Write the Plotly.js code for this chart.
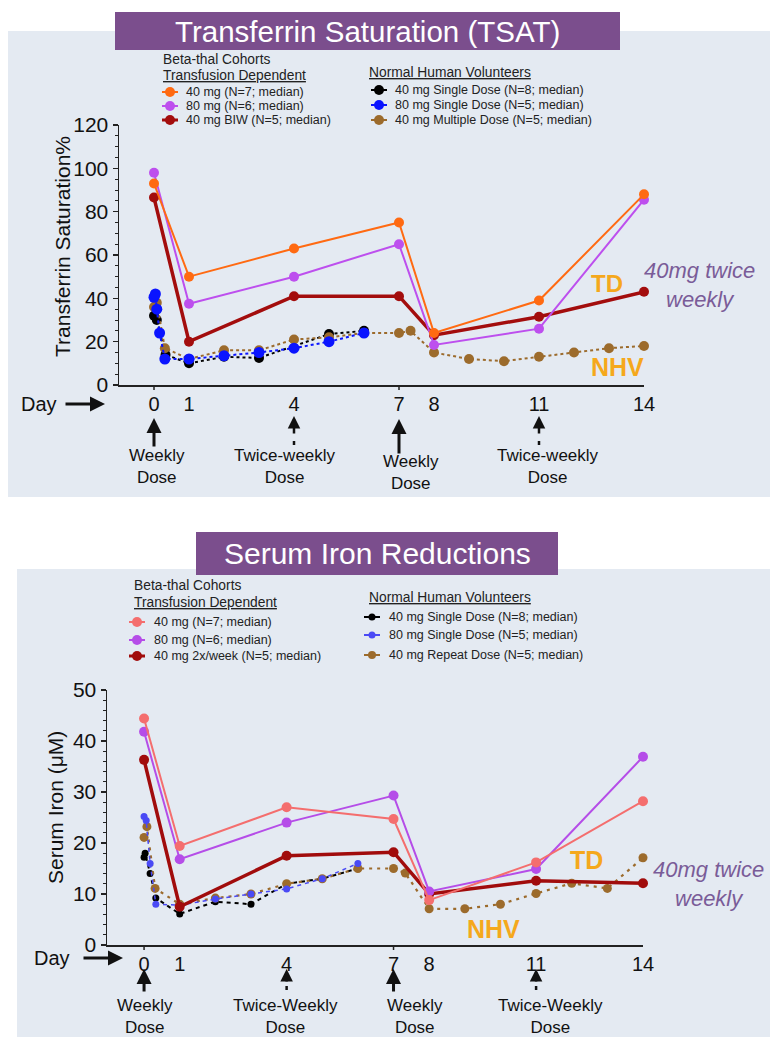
<!DOCTYPE html>
<html>
<head>
<meta charset="utf-8">
<script src="https://cdn.plot.ly/plotly-3.0.1.min.js"></script>
<style>
html,body{margin:0;padding:0;background:#ffffff;}
#chart{width:770px;height:1037px;}
</style>
</head>
<body>
<div id="chart"></div>
<script>
// ================= DATA =================
// Top chart: Transferrin saturation (%)
const tsatDaysTD     = [0, 1, 4, 7, 8, 11, 14];
const tsat40mg       = [93, 50, 63, 75, 24, 39, 88];
const tsat80mg       = [98, 37.5, 50, 65, 18.5, 26, 85.5];
const tsat40mgBIW    = [86.5, 20, 41, 41, 23, 31.5, 43];

const tsatDaysNHV40SD = [0, 0.08, 0.33, 1, 2, 3, 5, 6];
const tsatNHV40SD     = [32, 30, 14, 10, 13, 12.5, 23.5, 25];
const tsatDaysNHV80SD = [0, 0.04, 0.08, 0.16, 0.31, 1, 2, 3, 4, 5, 6];
const tsatNHV80SD     = [40.5, 42, 35, 24, 12, 12, 13.5, 15, 17, 20, 24];
const tsatDaysNHV40MD = [0, 0.08, 0.31, 1, 2, 3, 4, 5, 6, 7, 7.33, 8, 9, 10, 11, 12, 13, 14];
const tsatNHV40MD     = [36, 38, 17, 12, 16, 16, 21, 22, 24, 24, 25, 15, 12, 11, 13, 15, 17, 18];

// Bottom chart: Serum iron (uM)
const ironDaysTD     = [0, 1, 4, 7, 8, 11, 14];
const iron40mg       = [44.4, 19.4, 27, 24.7, 8.8, 16.2, 28.2];
const iron80mg       = [41.8, 16.8, 24, 29.3, 10.5, 14.9, 36.9];
const iron40mg2x     = [36.3, 7.5, 17.5, 18.2, 10, 12.6, 12.1];

const ironDaysNHV40SD = [0, 0.03, 0.17, 0.33, 1, 2, 3, 4, 5, 6];
const ironNHV40SD     = [17.2, 18, 14, 9.2, 6.1, 8.5, 8, 12, 13, 15];
const ironDaysNHV80SD = [0, 0.06, 0.17, 0.33, 1, 2, 3, 4, 5, 6];
const ironNHV80SD     = [25.2, 24.4, 16, 8, 7.8, 9, 10, 11, 13, 16];
const ironDaysNHV40RD = [0, 0.08, 0.31, 1, 2, 3, 4, 5, 6, 7, 7.33, 8, 9, 10, 11, 12, 13, 14];
const ironNHV40RD     = [21.1, 23.2, 11.1, 8, 9.2, 10, 12, 13, 15, 15, 14.1, 7.1, 7.1, 8, 10.1, 12.1, 11.1, 17.1];

// Tick labels / text
const dayTicks = [0, 1, 4, 7, 8, 11, 14];
const tsatTicks = [0, 20, 40, 60, 80, 100, 120];
const ironTicks = [0, 10, 20, 30, 40, 50];

const topTDNames  = ['40 mg (N=7; median)', '80 mg (N=6; median)', '40 mg BIW (N=5; median)'];
const topNHVNames = ['40 mg Single Dose (N=8; median)', '80 mg Single Dose (N=5; median)', '40 mg Multiple Dose (N=5; median)'];
const botTDNames  = ['40 mg (N=7; median)', '80 mg (N=6; median)', '40 mg 2x/week (N=5; median)'];
const botNHVNames = ['40 mg Single Dose (N=8; median)', '80 mg Single Dose (N=5; median)', '40 mg Repeat Dose (N=5; median)'];

// ================= STYLE =================
const W = 770, H = 1037;
const X = p => p / W;
const Y = p => 1 - p / H;
const FONT = 'Liberation Sans, Arial, Helvetica, sans-serif';

const cTop = {o: '#ff6a12', p: '#bd4fee', r: '#a30d0d', k: '#000000', b: '#0a14ff', n: '#9c6b2c'};
const cBot = {o: '#f46e6e', p: '#b54de8', r: '#a10c0c', k: '#000000', b: '#4a4af5', n: '#9c6b2c'};

function tr(x, y, name, color, lw, dash, ms, xa, ya) {
  return {x: x, y: y, name: name, type: 'scatter', mode: 'lines+markers',
    xaxis: xa, yaxis: ya, cliponaxis: false,
    line: {color: color, width: lw, dash: dash},
    marker: {color: color, size: ms}};
}

const data = [
  tr(tsatDaysNHV40SD, tsatNHV40SD, topNHVNames[0], cTop.k, 2, 'dot', 10, 'x', 'y'),
  tr(tsatDaysNHV40MD, tsatNHV40MD, topNHVNames[2], cTop.n, 2, 'dot', 10, 'x', 'y'),
  tr(tsatDaysNHV80SD, tsatNHV80SD, topNHVNames[1], cTop.b, 2, 'dot', 11, 'x', 'y'),
  tr(tsatDaysTD, tsat40mgBIW, topTDNames[2], cTop.r, 3.5, 'solid', 10, 'x', 'y'),
  tr(tsatDaysTD, tsat80mg, topTDNames[1], cTop.p, 2, 'solid', 10, 'x', 'y'),
  tr(tsatDaysTD, tsat40mg, topTDNames[0], cTop.o, 2, 'solid', 10, 'x', 'y'),

  tr(ironDaysNHV40SD, ironNHV40SD, botNHVNames[0], cBot.k, 2, '4px,4px', 7, 'x2', 'y2'),
  tr(ironDaysNHV40RD, ironNHV40RD, botNHVNames[2], cBot.n, 2.2, '3px,5px', 9, 'x2', 'y2'),
  tr(ironDaysNHV80SD, ironNHV80SD, botNHVNames[1], cBot.b, 1.5, '4px,4px', 7, 'x2', 'y2'),
  tr(ironDaysTD, iron40mg2x, botTDNames[2], cBot.r, 3.5, 'solid', 10, 'x2', 'y2'),
  tr(ironDaysTD, iron80mg, botTDNames[1], cBot.p, 2, 'solid', 10, 'x2', 'y2'),
  tr(ironDaysTD, iron40mg, botTDNames[0], cBot.o, 2, 'solid', 10, 'x2', 'y2')
];

const axisCommon = {showgrid: false, zeroline: false, showline: true, linecolor: '#222', linewidth: 1.5, fixedrange: true};

const layout = {
  width: W, height: H,
  margin: {l: 0, r: 0, t: 0, b: 0},
  paper_bgcolor: '#ffffff',
  plot_bgcolor: 'rgba(0,0,0,0)',
  showlegend: false,
  font: {family: FONT, color: '#111'},
  xaxis: Object.assign({}, axisCommon, {
    domain: [X(119), X(644)], range: [-1, 14], anchor: 'y',
    tickmode: 'array', tickvals: dayTicks, ticktext: dayTicks.map(String),
    ticks: '', tickfont: {size: 20, color: '#111'}
  }),
  yaxis: Object.assign({}, axisCommon, {
    domain: [Y(385), Y(125)], range: [0, 120], anchor: 'x',
    tickmode: 'array', tickvals: tsatTicks,
    ticks: 'outside', ticklen: 5, tickwidth: 1.5, tickcolor: '#222',
    tickfont: {size: 21, color: '#111'},
    minor: {dtick: 5, ticks: 'outside', ticklen: 3, tickwidth: 1, tickcolor: '#222'}
  }),
  xaxis2: Object.assign({}, axisCommon, {
    domain: [X(107), X(643)], range: [-1.04, 14], anchor: 'y2',
    tickmode: 'array', tickvals: dayTicks, ticktext: dayTicks.map(String),
    ticks: '', tickfont: {size: 20, color: '#111'}
  }),
  yaxis2: Object.assign({}, axisCommon, {
    domain: [Y(945), Y(690)], range: [0, 50], anchor: 'x2',
    tickmode: 'array', tickvals: ironTicks,
    ticks: 'outside', ticklen: 5, tickwidth: 1.5, tickcolor: '#222',
    tickfont: {size: 21, color: '#111'},
    minor: {dtick: 2, ticks: 'outside', ticklen: 3, tickwidth: 1, tickcolor: '#222'}
  }),
  shapes: [],
  annotations: []
};

const S = layout.shapes, A = layout.annotations;

// panels and title boxes
S.push({type: 'rect', xref: 'paper', yref: 'paper', layer: 'below', x0: X(8), x1: X(770), y0: Y(497), y1: Y(31), fillcolor: '#e4eaf2', line: {width: 0}});
S.push({type: 'rect', xref: 'paper', yref: 'paper', layer: 'below', x0: X(17), x1: X(770), y0: Y(1037), y1: Y(569), fillcolor: '#e4eaf2', line: {width: 0}});
S.push({type: 'rect', xref: 'paper', yref: 'paper', layer: 'below', x0: X(115), x1: X(620), y0: Y(50), y1: Y(12), fillcolor: '#7b4e8d', line: {width: 0}});
S.push({type: 'rect', xref: 'paper', yref: 'paper', layer: 'below', x0: X(196), x1: X(558), y0: Y(575), y1: Y(532), fillcolor: '#7b4e8d', line: {width: 0}});

function txt(x, y, text, size, opts) {
  A.push(Object.assign({xref: 'paper', yref: 'paper', x: X(x), y: Y(y), text: text, showarrow: false,
    xanchor: 'center', yanchor: 'middle', font: {family: FONT, size: size, color: '#111'}}, opts || {}));
}

txt(367, 31, 'Transferrin Saturation (TSAT)', 29.5, {font: {family: FONT, size: 29.5, color: '#ffffff'}});
txt(377, 553, 'Serum Iron Reductions', 30, {font: {family: FONT, size: 30, color: '#ffffff'}});

// axis titles
txt(63, 247, 'Transferrin Saturation%', 21, {textangle: -90});
txt(55, 808, 'Serum Iron (μM)', 21, {textangle: -90});

// legends
const UL = s => '<span style="text-decoration:underline">' + s + '</span>';
function legendBlock(hx, hy1, hy2, kx, tx, ys, names, colors, rs, lws) {
  if (hy1 !== null) txt(hx, hy1, 'Beta-thal Cohorts', 13.8, {xanchor: 'left', font: {family: FONT, size: 13.8, color: '#222'}});
  txt(hx, hy2, UL(hy1 !== null ? 'Transfusion Dependent' : 'Normal Human Volunteers'), 13.8, {xanchor: 'left', font: {family: FONT, size: 13.8, color: '#222'}});
  names.forEach((nm, i) => {
    const cy = ys[i], r = rs[i];
    S.push({type: 'line', xref: 'paper', yref: 'paper', x0: X(kx - 8), x1: X(kx + 8), y0: Y(cy), y1: Y(cy), line: {color: colors[i], width: lws[i]}});
    S.push({type: 'circle', xref: 'paper', yref: 'paper', x0: X(kx - r), x1: X(kx + r), y0: Y(cy + r), y1: Y(cy - r), fillcolor: colors[i], line: {width: 0}});
    txt(tx, cy, nm, 12.5, {xanchor: 'left', font: {family: FONT, size: 12.5, color: '#222'}});
  });
}
legendBlock(161, 60, 76, 170, 184, [92, 106, 120], topTDNames, [cTop.o, cTop.p, cTop.r], [5, 5, 5], [2, 2, 3]);
legendBlock(367, null, 72, 379, 393, [90, 105, 120], topNHVNames, [cTop.k, cTop.b, cTop.n], [5, 5, 5], [2, 2, 2]);
legendBlock(132, 585, 602, 137, 152, [622, 640, 656], botTDNames, [cBot.o, cBot.p, cBot.r], [5, 5, 5], [2, 2, 3]);
legendBlock(367, null, 597, 372, 387, [617, 635, 655], botNHVNames, [cBot.k, cBot.b, cBot.n], [3.5, 3.5, 4], [2, 2, 2]);

// TD / NHV / 40mg twice weekly labels
const gold = '#f5a81c', lav = '#7a5c98';
txt(607, 283, '<b>TD</b>', 24, {font: {family: FONT, size: 24, color: gold}});
txt(617, 367, '<b>NHV</b>', 25, {font: {family: FONT, size: 25, color: gold}});
txt(699, 285, '<i>40mg twice<br>weekly</i>', 22, {font: {family: FONT, size: 22, color: lav}});
txt(586, 860, '<b>TD</b>', 25, {font: {family: FONT, size: 25, color: gold}});
txt(493, 929, '<b>NHV</b>', 25, {font: {family: FONT, size: 25, color: gold}});
txt(708, 884, '<i>40mg twice<br>weekly</i>', 22, {font: {family: FONT, size: 22, color: lav}});

// Day arrows
txt(39, 404, 'Day', 20);
txt(52, 958, 'Day', 20);
function parrow(tipx, tipy, len) {
  A.push({xref: 'paper', yref: 'paper', x: X(tipx), y: Y(tipy), ax: -len, ay: 0, text: '', showarrow: true,
    arrowhead: 2, arrowsize: 1, arrowwidth: 3, arrowcolor: '#111'});
}
parrow(105, 404, 41);
parrow(123, 958, 41);

// x-axis tick marks at day 0 and 7
[[0, 'x', 385], [7, 'x', 385], [0, 'x2', 945], [7, 'x2', 945]].forEach(t => {
  S.push({type: 'line', xref: t[1], yref: 'paper', x0: t[0], x1: t[0], y0: Y(t[2]), y1: Y(t[2] + 5), line: {color: '#222', width: 1.5}});
});

// dose arrows
function dose(xa, day, tipy, len, shaft, dashed, label, lx, ly) {
  A.push({xref: xa, yref: 'paper', x: day, y: Y(tipy), ax: 0, ay: dashed ? shaft : len, text: '', showarrow: true,
    arrowhead: 2, arrowsize: 1, arrowwidth: dashed ? 2.5 : 3, arrowcolor: '#111'});
  if (dashed) {
    S.push({type: 'line', xref: xa, yref: 'paper', x0: day, x1: day, y0: Y(tipy + len - 3), y1: Y(tipy + len + 1), line: {color: '#111', width: 2.5}});
  }
  A.push({xref: 'paper', yref: 'paper', x: X(lx), y: Y(ly), text: label, showarrow: false,
    xanchor: 'center', yanchor: 'middle', align: 'center', font: {family: FONT, size: 17, color: '#111'}});
}
dose('x', 0, 418, 30, 0, false, 'Weekly<br>Dose', 157, 467);
dose('x', 4, 416, 28, 19, true, 'Twice-weekly<br>Dose', 285, 467);
dose('x', 7, 419, 36, 0, false, 'Weekly<br>Dose', 411, 472);
dose('x', 11, 416, 28, 19, true, 'Twice-weekly<br>Dose', 548, 467);

dose('x2', 0, 969, 24, 0, false, 'Weekly<br>Dose', 145, 1016);
dose('x2', 4, 969, 20, 14, true, 'Twice-Weekly<br>Dose', 285, 1016);
dose('x2', 7, 969, 24, 0, false, 'Weekly<br>Dose', 415, 1016);
dose('x2', 11, 969, 20, 14, true, 'Twice-Weekly<br>Dose', 550, 1016);

Plotly.newPlot('chart', data, layout, {displayModeBar: false, staticPlot: true});
</script>
</body>
</html>
